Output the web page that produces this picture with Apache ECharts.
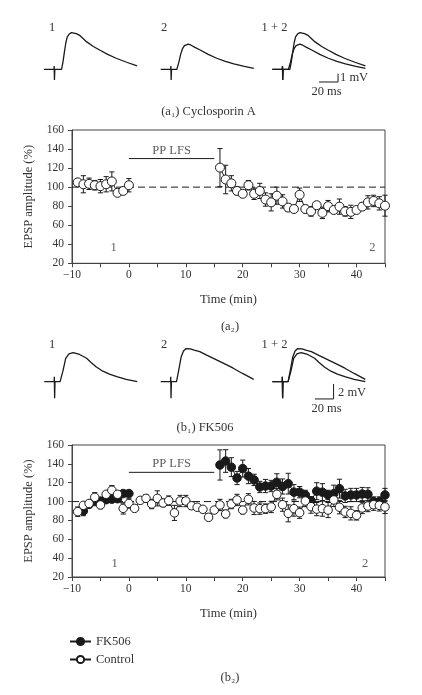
<!DOCTYPE html>
<html>
<head>
<meta charset="utf-8">
<script src="https://cdn.jsdelivr.net/npm/echarts@6/dist/echarts.min.js"></script>
<style>
html,body{margin:0;padding:0;background:#fff;}
#c{width:422px;height:695px;}
</style>
</head>
<body>
<div id="c"></div>
<script>
// ---------- DATA ----------
// EPSP traces (time in ms, amplitude in mV)
const a1Trace1T = [0, 10.5, 10.7, 11.0, 11.4, 18.5, 20, 21.5, 23, 24.5, 26.5, 29, 31, 34, 38, 45, 52, 59, 67, 76, 87, 98];
const a1Trace1V = [0, 0, 0.4, -1.3, 0, 0, 0.9, 2.1, 3.2, 3.9, 4.25, 4.42, 4.45, 4.3, 4.05, 3.3, 2.75, 2.3, 1.8, 1.33, 0.85, 0.4];
const a1Trace2T = [0, 10.5, 10.7, 11.0, 11.4, 17, 19, 21, 23, 25, 27, 29, 32, 36, 41, 50, 59, 68, 77, 88, 98];
const a1Trace2V = [0, 0, 0.4, -1.3, 0, 0, 0.8, 1.8, 2.5, 2.85, 3.0, 3.02, 2.9, 2.65, 2.35, 1.8, 1.33, 0.95, 0.64, 0.35, 0.12];
const b1Trace1T = [0, 10.6, 10.8, 11.1, 11.5, 17, 20, 23, 26.5, 31, 38, 45.5, 50, 56, 63, 70, 78, 88, 100];
const b1Trace1V = [0, 0, 0.67, -2.2, 0, 0, 1.4, 3.1, 3.7, 3.87, 3.63, 3.12, 2.6, 1.95, 1.4, 1.0, 0.67, 0.3, 0.0];
const b1Trace2T = [0, 10.6, 10.8, 11.1, 11.5, 17, 19.5, 22, 24.5, 27, 29, 32, 36, 42, 50, 60, 70, 78, 88, 100];
const b1Trace2V = [0, 0, 0.67, -2.2, 0, 0, 1.6, 3.3, 4.1, 4.4, 4.45, 4.38, 4.2, 4.0, 3.5, 2.9, 2.3, 1.8, 1.1, 0.32];

// (a2) Cyclosporin A time course
const a2Time = [-9,-8,-7,-6,-5,-4,-3,-2,-1,0,16,17,18,19,20,21,22,23,24,25,26,27,28,29,30,31,32,33,34,35,36,37,38,39,40,41,42,43,44,45];
const a2Mean = [105,103,103.5,102,101,103,106,94,96,102,
  120.5,108,104,96,93,102,93,96,87,84,91,85,78.5,77,92,77,74.5,81,73,80,76,79.5,74.5,74,76,79.5,84,85.5,83,80.5];
const a2Err = [3,9,6,5,7,8,10,2,2,7,
  20,15,8,4,3,5,6,8,7,9,9,7,4,1,7,4,5,3,6,6,2,8,5,7,3,4,7,6,7,11];

// (b2) FK506 and Control time course
const fkTime = [-8,-7,-6,-5,-4,-3,-2,-1,0,16,17,18,19,20,21,22,23,24,25,26,27,28,29,30,31,32,33,34,35,36,37,38,39,40,41,42,43,44,45];
const fkMean = [90,97,100,100.5,102,102.5,103,108.5,108.5,
  138.8,143,136.5,125,135,127,123,115.5,116.5,116.5,120.5,116,119,110,110,107,101,111,110,107,108.4,113.7,106,107,107,108,107.7,100,100,107];
const fkErr = [5,3,3,3,3,3,3,3,3,
  16,12,10,7,9,8,6,6,7,6,9,8,11,8,6,5,4,9,9,5,9,10,7,7,7,7,7,5,5,7];
const ctrlTime = [-9,-8,-7,-6,-5,-4,-3,-2,-1,0,1,2,3,4,5,6,7,8,9,10,11,12,13,14,15,16,17,18,19,20,21,22,23,24,25,26,27,28,29,30,31,32,33,34,35,36,37,38,39,40,41,42,43,44,45];
const ctrlMean = [89.3,96,98,104.5,96.4,107.7,112,107.7,92.8,98,
  92.8,101.3,103.4,97.4,103.4,98.5,101,88,100.6,100.6,
  95.6,94,91.8,83.3,91,96.4,86.8,97.4,101.7,91,
  102.4,93.2,92.5,92.5,94.3,107.7,96.7,87.5,92.5,88.2,
  100.6,94.6,92,92.5,91,101.7,94,89,87.5,85.4,
  93.2,95.3,96.7,96,94.3];
const ctrlErr = [5,3,2,5,4,3,5,3,6,5,
  3,3,4,5,8,4,5,8,6,6,
  4,3,3,3,3,6,4,5,6,4,
  6,7,6,5,6,6,7,9,8,6,
  6,7,7,8,8,7,7,6,7,5,
  6,6,6,6,7];

// Axis ticks / labels
const timeMin = -10, timeMax = 45, timeTick = 5, timeLabelStep = 10;
const ampMin = 20, ampMax = 160, ampTick = 20;
const baselineLevel = 100;
const lfsStart = 0, lfsEnd = 15;
const scaleBarA = {ms: 20, mV: 1};
const scaleBarB = {ms: 20, mV: 2};

// ---------- HELPERS ----------
const FONT = '"Liberation Serif","DejaVu Serif",serif';
const TXT = '#333';
const INK = '#1a1a1a';

function zip(t, v) { return t.map((x, i) => [x, v[i]]); }
function lineData(t, v) {
  const out = [];
  for (let i = 0; i < t.length; i++) {
    if (i > 0 && t[i] - t[i - 1] > 1) out.push([(t[i] + t[i - 1]) / 2, '-']);
    out.push([t[i], v[i]]);
  }
  return out;
}
function errData(t, m, e) { return t.map((x, i) => [x, m[i] - e[i], m[i] + e[i]]); }
function errRender(params, api) {
  const x = api.value(0);
  const lo = api.coord([x, api.value(1)]);
  const hi = api.coord([x, api.value(2)]);
  const w = 2.6;
  const st = {stroke: INK, lineWidth: 1};
  return {type: 'group', children: [
    {type: 'line', shape: {x1: lo[0], y1: lo[1], x2: hi[0], y2: hi[1]}, style: st},
    {type: 'line', shape: {x1: lo[0] - w, y1: lo[1], x2: lo[0] + w, y2: lo[1]}, style: st},
    {type: 'line', shape: {x1: hi[0] - w, y1: hi[1], x2: hi[0] + w, y2: hi[1]}, style: st}
  ]};
}

// ---------- LAYOUT ----------
const grids = [
  {left: 44, top: 27.8, width: 95, height: 58.1},
  {left: 160.7, top: 27.8, width: 95, height: 58.1},
  {left: 272.3, top: 27.8, width: 95, height: 58.1},
  {left: 44.3, top: 344.2, width: 93, height: 60},
  {left: 160.7, top: 344.2, width: 93, height: 60},
  {left: 272.3, top: 344.2, width: 93, height: 60},
  {left: 72, top: 130, width: 313, height: 133.3, show: true, borderColor: '#444', borderWidth: 1},
  {left: 72, top: 445, width: 313, height: 132, show: true, borderColor: '#444', borderWidth: 1}
];

const xAxes = [], yAxes = [];
for (let i = 0; i < 6; i++) {
  xAxes.push({gridIndex: i, type: 'value', min: 0, max: 100, show: false});
  yAxes.push({gridIndex: i, type: 'value', min: i < 3 ? -2 : -3, max: 5, show: false});
}
function plotX(g) {
  return {
    gridIndex: g, type: 'value', min: timeMin, max: timeMax, interval: timeTick,
    axisLine: {show: true, onZero: false, lineStyle: {color: '#444', width: 1}},
    axisTick: {show: true, length: 4, lineStyle: {color: '#444'}},
    splitLine: {show: false},
    axisLabel: {
      margin: 6, fontFamily: FONT, fontSize: 11.5, color: TXT,
      formatter: v => (v % timeLabelStep === 0 ? (v < 0 ? '\u2212' + (-v) : String(v)) : '')
    },
    name: 'Time (min)', nameLocation: 'middle', nameGap: 30,
    nameTextStyle: {fontFamily: FONT, fontSize: 12.5, color: TXT}
  };
}
function plotY(g) {
  return {
    gridIndex: g, type: 'value', min: ampMin, max: ampMax, interval: ampTick,
    axisLine: {show: true, onZero: false, lineStyle: {color: '#444', width: 1}},
    axisTick: {show: true, length: 4, lineStyle: {color: '#444'}},
    splitLine: {show: false},
    axisLabel: {margin: 8, fontFamily: FONT, fontSize: 11.5, color: TXT},
    name: 'EPSP amplitude (%)', nameLocation: 'middle', nameGap: 37,
    nameTextStyle: {fontFamily: FONT, fontSize: 12.5, color: TXT}
  };
}
xAxes.push(plotX(6), plotX(7));
yAxes.push(plotY(6), plotY(7));

const series = [];
function trace(idx, t, v) {
  series.push({type: 'line', xAxisIndex: idx, yAxisIndex: idx, data: zip(t, v),
    showSymbol: false, silent: true, lineStyle: {color: INK, width: 1.3}});
}
trace(0, a1Trace1T, a1Trace1V);
trace(1, a1Trace2T, a1Trace2V);
trace(2, a1Trace1T, a1Trace1V);
trace(2, a1Trace2T, a1Trace2V);
trace(3, b1Trace1T, b1Trace1V);
trace(4, b1Trace2T, b1Trace2V);
trace(5, b1Trace1T, b1Trace1V);
trace(5, b1Trace2T, b1Trace2V);

function scaleBar(idx, x0, y0, bar) {
  series.push({type: 'line', xAxisIndex: idx, yAxisIndex: idx, showSymbol: false, silent: true,
    data: [[x0, y0], [x0 + bar.ms, y0], [x0 + bar.ms, y0 + bar.mV]],
    lineStyle: {color: INK, width: 1}});
}
scaleBar(2, 49.2, -1.53, scaleBarA);
scaleBar(5, 45.9, -2.3, scaleBarB);

function plotDecor(idx, lfsY, lfsTextY, lbl1, lbl2) {
  series.push({type: 'line', xAxisIndex: idx, yAxisIndex: idx, showSymbol: false, silent: true,
    data: [[timeMin, baselineLevel], [timeMax, baselineLevel]],
    lineStyle: {color: INK, width: 1, type: [7, 4]}, z: 1});
  series.push({type: 'line', xAxisIndex: idx, yAxisIndex: idx, showSymbol: false, silent: true,
    data: [[lfsStart, lfsY], [lfsEnd, lfsY]], lineStyle: {color: INK, width: 1}});
  const lab = {show: true, position: 'inside', fontFamily: FONT, fontSize: 12.5, color: TXT};
  series.push({type: 'scatter', xAxisIndex: idx, yAxisIndex: idx, symbolSize: 0, silent: true,
    label: Object.assign({}, lab, {formatter: p => p.data.t}),
    data: [
      {value: [(lfsStart + lfsEnd) / 2, lfsTextY], t: 'PP LFS'},
      {value: lbl1, t: '1'},
      {value: lbl2, t: '2'}
    ]});
}
plotDecor(6, 130, 138.5, [-2.7, 36.5], [42.8, 36.5]);
plotDecor(7, 131, 140, [-2.5, 34], [41.5, 34]);

series.push({type: 'custom', xAxisIndex: 6, yAxisIndex: 6, silent: true,
  renderItem: errRender, data: errData(a2Time, a2Mean, a2Err), z: 2});
series.push({type: 'line', name: 'CsA', xAxisIndex: 6, yAxisIndex: 6, data: lineData(a2Time, a2Mean),
  symbol: 'circle', symbolSize: 9, showSymbol: true, silent: true, z: 3,
  lineStyle: {color: INK, width: 1}, itemStyle: {color: '#fff', borderColor: INK, borderWidth: 1}});

series.push({type: 'custom', xAxisIndex: 7, yAxisIndex: 7, silent: true,
  renderItem: errRender, data: errData(fkTime, fkMean, fkErr), z: 2});
series.push({type: 'line', name: 'FK506', xAxisIndex: 7, yAxisIndex: 7, data: lineData(fkTime, fkMean),
  symbol: 'circle', symbolSize: 8.5, showSymbol: true, silent: true, z: 3,
  lineStyle: {color: INK, width: 1}, itemStyle: {color: INK, borderColor: INK, borderWidth: 1}});
series.push({type: 'custom', xAxisIndex: 7, yAxisIndex: 7, silent: true,
  renderItem: errRender, data: errData(ctrlTime, ctrlMean, ctrlErr), z: 4});
series.push({type: 'line', name: 'Control', xAxisIndex: 7, yAxisIndex: 7, data: lineData(ctrlTime, ctrlMean),
  symbol: 'circle', symbolSize: 8.5, showSymbol: true, silent: true, z: 5,
  lineStyle: {color: INK, width: 1}, itemStyle: {color: '#fff', borderColor: INK, borderWidth: 1}});

function txt(text, x, y, size, align) {
  return {type: 'text', x: x, y: y, silent: true,
    style: {text: text, font: size + 'px ' + FONT, fill: TXT, align: align || 'center', verticalAlign: 'middle'}};
}

const option = {
  animation: false,
  backgroundColor: '#fff',
  grid: grids,
  xAxis: xAxes,
  yAxis: yAxes,
  legend: {
    data: ['FK506', 'Control'], orient: 'vertical', left: 64, top: 635,
    itemWidth: 21, itemHeight: 9, itemGap: 5, selectedMode: false, padding: [0, 5, 0, 5],
    textStyle: {fontFamily: FONT, fontSize: 12.5, color: TXT}
  },
  graphic: [
    txt('1', 52, 28, 12.5), txt('2', 164, 28, 12.5), txt('1 + 2', 274.5, 28, 12.5),
    txt('1 mV', 340, 77.5, 12.5, 'left'), txt('20 ms', 326.5, 92, 12.5),
    txt('(a\u2081) Cyclosporin A', 208.5, 112, 12.5),
    txt('(a\u2082)', 230, 327, 12.5),
    txt('1', 52, 345, 12.5), txt('2', 164, 345, 12.5), txt('1 + 2', 274.5, 345, 12.5),
    txt('2 mV', 338, 393, 12.5, 'left'), txt('20 ms', 326.5, 409, 12.5),
    txt('(b\u2081) FK506', 205, 428, 12.5),
    txt('(b\u2082)', 230, 678, 12.5)
  ],
  series: series
};

const chart = echarts.init(document.getElementById('c'), null, {renderer: 'canvas'});
chart.setOption(option);
</script>
</body>
</html>
